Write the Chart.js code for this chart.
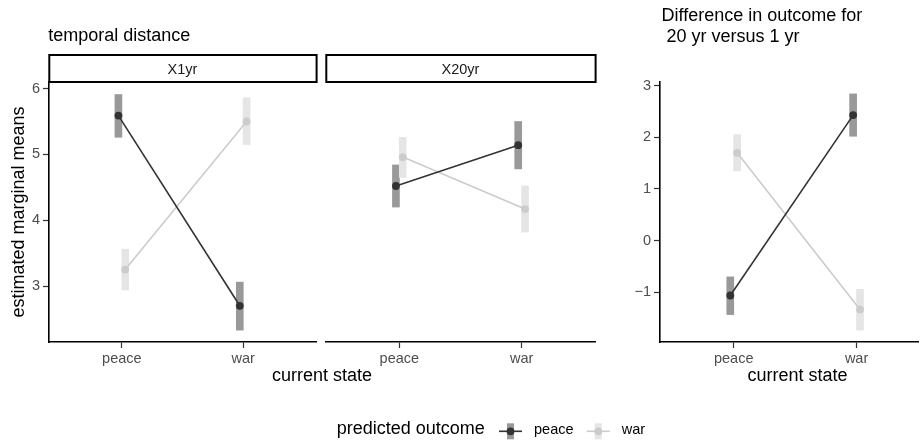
<!DOCTYPE html>
<html>
<head>
<meta charset="utf-8">
<script src="https://cdn.jsdelivr.net/npm/chart.js@4.4.1/dist/chart.umd.min.js"></script>
<style>
  html, body { margin: 0; padding: 0; background: #fff; }
  #wrap { position: relative; width: 922px; height: 443px; }
  #wrap canvas { position: absolute; left: 0; top: 0; }
</style>
</head>
<body>
<div id="wrap">
  <canvas id="c1" width="922" height="443"></canvas>
  <canvas id="c2" width="922" height="443"></canvas>
  <canvas id="c3" width="922" height="443"></canvas>
</div>
<script>
// current state categories and the predicted-outcome groups
const states = ['peace', 'war'];
const outcomes = ['peace', 'war'];

// X1yr facet: estimated marginal means with interval ends
const yr1Peace   = [5.59, 2.70];
const yr1PeaceLo = [5.26, 2.33];
const yr1PeaceHi = [5.91, 3.06];
const yr1War     = [3.25, 5.50];
const yr1WarLo   = [2.94, 5.15];
const yr1WarHi   = [3.56, 5.86];

// X20yr facet
const yr20Peace   = [4.52, 5.14];
const yr20PeaceLo = [4.20, 4.78];
const yr20PeaceHi = [4.84, 5.50];
const yr20War     = [4.96, 4.17];
const yr20WarLo   = [4.65, 3.82];
const yr20WarHi   = [5.26, 4.52];

// difference 20 yr versus 1 yr
const diffPeace   = [-1.06, 2.43];
const diffPeaceLo = [-1.43, 2.02];
const diffPeaceHi = [-0.70, 2.84];
const diffWar     = [1.70, -1.33];
const diffWarLo   = [1.35, -1.73];
const diffWarHi   = [2.05, -0.94];

const meansTicks = [3, 4, 5, 6];
const diffTicks = [-1, 0, 1, 2, 3];

const FONT = "'Liberation Sans', Arial, Helvetica, sans-serif";
const DARK = '#333333', DARK_BAR = '#999999';
const LIGHT = '#cccccc', LIGHT_BAR = '#e5e5e5';
const DODGE = 0.028;

Chart.defaults.font.family = FONT;
Chart.defaults.color = '#4d4d4d';

function bars(lo, hi, shift, col, order) {
  return {
    type: 'bar',
    data: states.map((s, i) => ({ x: i + shift, y: [lo[i], hi[i]] })),
    backgroundColor: col,
    borderWidth: 0,
    barThickness: 7,
    grouped: false,
    order: order
  };
}

function line(vals, shift, col, order) {
  return {
    type: 'line',
    data: states.map((s, i) => ({ x: i + shift, y: vals[i] })),
    borderColor: col,
    backgroundColor: col,
    borderWidth: 1.6,
    pointRadius: 3.9,
    pointBorderWidth: 0,
    pointBackgroundColor: col,
    order: order
  };
}

function panelData(pMean, pLo, pHi, wMean, wLo, wHi) {
  return {
    datasets: [
      bars(pLo, pHi, -DODGE, DARK_BAR, 4),
      bars(wLo, wHi, DODGE, LIGHT_BAR, 3),
      line(wMean, DODGE, LIGHT, 2),
      line(pMean, -DODGE, DARK, 1)
    ]
  };
}

function xScale(max) {
  return {
    type: 'linear', min: -0.6, max: max, offset: false,
    afterBuildTicks: s => { s.ticks = states.map((_, i) => ({ value: i })); },
    afterFit: s => { s.height = 101; },
    ticks: {
      callback: v => states[v],
      font: { size: 14.5 }, color: '#4d4d4d', padding: 2,
      maxRotation: 0, autoSkip: false
    },
    grid: { offset: false, drawOnChartArea: false, drawTicks: true, tickLength: 6, tickColor: '#333', tickWidth: 1.2 },
    border: { display: true, color: '#000', width: 1.6 }
  };
}

function yScale(min, max, tickList, width, show) {
  return {
    type: 'linear', min: min, max: max, display: show,
    afterBuildTicks: s => { s.ticks = tickList.map(v => ({ value: v })); },
    afterFit: s => { s.width = width; },
    ticks: {
      callback: v => (v < 0 ? '\u2212' + Math.abs(v) : String(v)),
      font: { size: 14.5 }, color: '#4d4d4d', padding: 3
    },
    grid: { offset: false, drawOnChartArea: false, drawTicks: true, tickLength: 6, tickColor: '#333', tickWidth: 1.2 },
    border: { display: true, color: '#000', width: 1.6 }
  };
}

function text(ctx, str, x, y, size, color, align) {
  ctx.save();
  ctx.font = size + 'px ' + FONT;
  ctx.fillStyle = color;
  ctx.textAlign = align || 'left';
  ctx.textBaseline = 'alphabetic';
  ctx.fillText(str, x, y);
  ctx.restore();
}

// facet strip box above a panel
function stripPlugin(label) {
  return {
    id: 'strip',
    afterDraw(chart) {
      const { ctx, chartArea: a } = chart;
      ctx.save();
      ctx.fillStyle = '#fff';
      ctx.fillRect(a.left, a.top - 28, a.right - a.left, 28);
      ctx.strokeStyle = '#000';
      ctx.lineWidth = 2;
      ctx.strokeRect(a.left + 0.3, a.top - 27, a.right - a.left + 0.3, 27);
      ctx.restore();
      text(ctx, label, (a.left + a.right) / 2, 74.3, 14.5, '#1a1a1a', 'center');
    }
  };
}

const baseOpts = {
  responsive: false,
  animation: false,
  events: [],
  plugins: { legend: { display: false }, tooltip: { enabled: false } }
};

// X1yr facet (carries the shared y axis)
new Chart(document.getElementById('c1'), {
  type: 'line',
  data: panelData(yr1Peace, yr1PeaceLo, yr1PeaceHi, yr1War, yr1WarLo, yr1WarHi),
  options: Object.assign({}, baseOpts, {
    layout: { padding: { left: 0, top: 82, right: 606, bottom: 0 } },
    scales: { x: xScale(1.6), y: yScale(2.15, 6.1, meansTicks, 49, true) }
  }),
  plugins: [stripPlugin('X1yr'), {
    id: 'titles1',
    afterDraw(chart) {
      const { ctx, chartArea: a } = chart;
      text(ctx, 'temporal distance', 48.3, 40.5, 18, '#000');
      ctx.save();
      ctx.translate(19, (a.top + a.bottom) / 2);
      ctx.rotate(-Math.PI / 2);
      ctx.font = '18px ' + FONT;
      ctx.fillStyle = '#000';
      ctx.textAlign = 'center';
      ctx.textBaseline = 'middle';
      ctx.fillText('estimated marginal means', 0, 0);
      ctx.restore();
    }
  }]
});

// X20yr facet
new Chart(document.getElementById('c2'), {
  type: 'line',
  data: panelData(yr20Peace, yr20PeaceLo, yr20PeaceHi, yr20War, yr20WarLo, yr20WarHi),
  options: Object.assign({}, baseOpts, {
    layout: { padding: { left: 326, top: 82, right: 327, bottom: 0 } },
    scales: { x: xScale(1.6), y: yScale(2.15, 6.1, meansTicks, 0, false) }
  }),
  plugins: [stripPlugin('X20yr'), {
    id: 'xtitle2',
    afterDraw(chart) {
      text(chart.ctx, 'current state', 322, 381, 18, '#000', 'center');
    }
  }]
});

// difference panel + shared legend
new Chart(document.getElementById('c3'), {
  type: 'line',
  data: panelData(diffPeace, diffPeaceLo, diffPeaceHi, diffWar, diffWarLo, diffWarHi),
  options: Object.assign({}, baseOpts, {
    layout: { padding: { left: 0, top: 82, right: 0, bottom: 0 } },
    scales: { x: xScale(1.5), y: yScale(-1.96, 3.07, diffTicks, 660, true) }
  }),
  plugins: [{
    id: 'titles3',
    afterDraw(chart) {
      const ctx = chart.ctx;
      text(ctx, 'Difference in outcome for', 661.5, 20.7, 18, '#000');
      text(ctx, ' 20 yr versus 1 yr', 661.5, 41.7, 18, '#000');
      text(ctx, 'current state', 797.5, 381, 18, '#000', 'center');

      // legend
      const ky = 431.3;
      text(ctx, 'predicted outcome', 336.7, 434.3, 18, '#000');
      const keys = [
        { cx: 510.5, bar: DARK_BAR, col: DARK, tx: 534 },
        { cx: 598.3, bar: LIGHT_BAR, col: LIGHT, tx: 621.7 }
      ];
      keys.forEach((k, i) => {
        ctx.save();
        ctx.fillStyle = k.bar;
        ctx.fillRect(k.cx - 3.5, ky - 8, 7, 16);
        ctx.strokeStyle = k.col;
        ctx.lineWidth = 1.6;
        ctx.beginPath();
        ctx.moveTo(k.cx - 11.5, ky);
        ctx.lineTo(k.cx + 11.5, ky);
        ctx.stroke();
        ctx.fillStyle = k.col;
        ctx.beginPath();
        ctx.arc(k.cx, ky, 3.9, 0, Math.PI * 2);
        ctx.fill();
        ctx.restore();
        text(ctx, outcomes[i], k.tx, 434.3, 14.5, '#000');
      });
    }
  }]
});
</script>
</body>
</html>
